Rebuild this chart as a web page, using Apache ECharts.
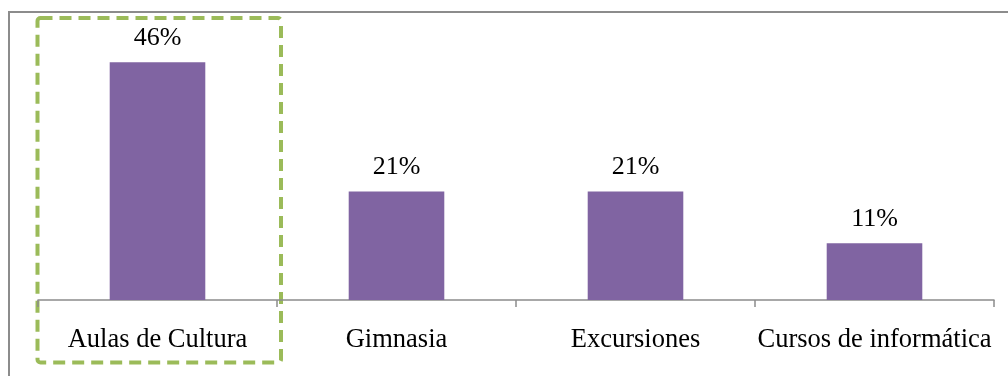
<!DOCTYPE html>
<html>
<head>
<meta charset="utf-8">
<style>
  html, body { margin: 0; padding: 0; background: #ffffff; }
  #chart { width: 1008px; height: 376px; }
</style>
<script src="https://cdn.jsdelivr.net/npm/echarts@6/dist/echarts.min.js"></script>
</head>
<body>
<div id="chart"></div>
<script>
// Activity preferences, share of respondents (%)
const categories = ['Aulas de Cultura', 'Gimnasia', 'Excursiones', 'Cursos de informática'];
const percentages = [46, 21, 21, 11];
// Category highlighted with a dashed frame
const highlightIndex = 0;

const chart = echarts.init(document.getElementById('chart'), null, { renderer: 'canvas' });

const FONT = '"Liberation Serif", "Times New Roman", serif';

chart.setOption({
  animation: false,
  backgroundColor: '#ffffff',
  grid: { left: 38, right: 14, top: 41.5, bottom: 76, containLabel: false },
  xAxis: {
    type: 'category',
    data: categories,
    boundaryGap: true,
    axisLine: { show: true, lineStyle: { color: '#8c8c8c', width: 1.5 } },
    axisTick: { show: true, length: 7, alignWithLabel: false, lineStyle: { color: '#8c8c8c', width: 1.5 } },
    axisLabel: { color: '#000000', fontFamily: FONT, fontSize: 26.5, margin: 27, interval: 0 }
  },
  yAxis: {
    type: 'value',
    min: 0,
    max: 50,
    show: false,
    splitLine: { show: false }
  },
  series: [{
    type: 'bar',
    data: percentages,
    barWidth: '40%',
    itemStyle: { color: '#8064A2' },
    label: {
      show: true,
      position: 'top',
      distance: 11,
      color: '#000000',
      fontFamily: FONT,
      fontSize: 26,
      formatter: p => p.value + '%'
    }
  }]
});

// Frame lines: partial outer border and the dashed highlight around one category
function drawFrames() {
  const c0 = chart.convertToPixel({ xAxisIndex: 0 }, highlightIndex);
  const c1 = chart.convertToPixel({ xAxisIndex: 0 }, highlightIndex + 1);
  const band = c1 - c0;
  const x0 = c0 - band / 2 - 0.5;
  const x1 = c0 + band / 2 + 4;
  chart.setOption({
    graphic: [
      {
        type: 'polyline',
        shape: { points: [[9, 376], [9, 12], [1008, 12]] },
        style: { stroke: '#8c8c8c', lineWidth: 2, fill: null }
      },
      {
        type: 'rect',
        shape: { x: x0, y: 18, width: x1 - x0, height: 344.5, r: 3 },
        style: { stroke: '#9BBB59', lineWidth: 4, fill: null, lineDash: [12, 7] }
      }
    ]
  });
}
drawFrames();
</script>
</body>
</html>
